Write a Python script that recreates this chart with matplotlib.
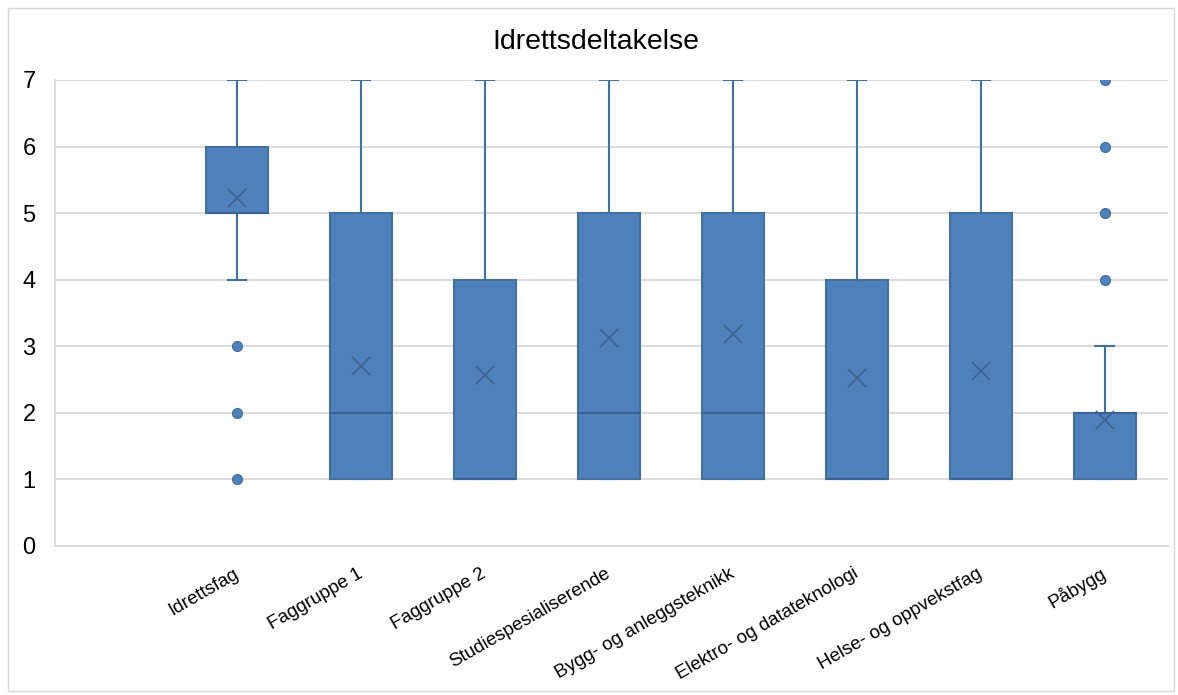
import matplotlib
matplotlib.use("Agg")
import matplotlib.pyplot as plt
from matplotlib.patches import Rectangle

plt.rcParams['font.family'] = ['Liberation Sans', 'DejaVu Sans']

categories = ["Idrettsfag", "Faggruppe 1", "Faggruppe 2", "Studiespesialiserende",
              "Bygg- og anleggsteknikk", "Elektro- og datateknologi",
              "Helse- og oppvekstfag", "Påbygg"]
q1 = [5, 1, 1, 1, 1, 1, 1, 1]
q3 = [6, 5, 4, 5, 5, 4, 5, 2]
medians = [5, 2, 1, 2, 2, 1, 1, 2]
whis_low = [4, 1, 1, 1, 1, 1, 1, 1]
whis_high = [7, 7, 7, 7, 7, 7, 7, 3]
means = [5.23, 2.70, 2.57, 3.13, 3.18, 2.53, 2.63, 1.89]
outliers = [[1, 2, 3], [], [], [], [], [], [], [4, 5, 6, 7]]

box_color = '#4f81bd'
edge_color = '#41719c'

stats = []
for i, name in enumerate(categories):
    stats.append(dict(label=name, q1=q1[i], q3=q3[i], med=medians[i],
                      whislo=whis_low[i], whishi=whis_high[i],
                      mean=means[i], fliers=outliers[i]))

fig = plt.figure(figsize=(11.78, 6.95), dpi=100)
ax = fig.add_axes([55 / 1178, 1 - 546 / 695, 1113 / 1178, 466 / 695])

positions = list(range(1, len(categories) + 1))
ax.bxp(stats, positions=positions, widths=0.5, capwidths=0.15,
       patch_artist=True, showmeans=True, zorder=3,
       boxprops=dict(facecolor=box_color, edgecolor=edge_color, linewidth=1.5),
       medianprops=dict(color='#3b6491', linewidth=1.5),
       whiskerprops=dict(color=edge_color, linewidth=1.5),
       capprops=dict(color=edge_color, linewidth=1.5),
       meanprops=dict(marker='x', markeredgecolor='#3b6491', markersize=13,
                      markeredgewidth=1.3),
       flierprops=dict(marker='o', markerfacecolor=box_color, markeredgecolor=edge_color,
                       markersize=7, markeredgewidth=1))

ax.set_xlim(-0.47, 8.51)
ax.set_ylim(0, 7)
ax.set_yticks(range(0, 8))
ax.yaxis.grid(True, color='#d9d9d9', linewidth=1.3, zorder=0)
ax.set_axisbelow(True)
ax.tick_params(axis='y', length=0, labelsize=17, pad=14, labelcolor='#000000')
ax.tick_params(axis='x', length=0, pad=19)
ax.set_xticks(positions)
ax.set_xticklabels(categories, rotation=30, ha='right', va='center',
                   rotation_mode='anchor', fontsize=13.5)
for side in ['top', 'right']:
    ax.spines[side].set_visible(False)
for side in ['left', 'bottom']:
    ax.spines[side].set_color('#d9d9d9')
    ax.spines[side].set_linewidth(1.3)

fig.text(596 / 1178, 1 - 42 / 695, "Idrettsdeltakelse", ha='center', va='center', fontsize=20.5)

fig.patches.append(Rectangle((8 / 1178, 4 / 695), 1166 / 1178, 683 / 695,
                             transform=fig.transFigure, fill=False,
                             edgecolor='#d9d9d9', linewidth=1))

fig.savefig("out.png", dpi=100)
